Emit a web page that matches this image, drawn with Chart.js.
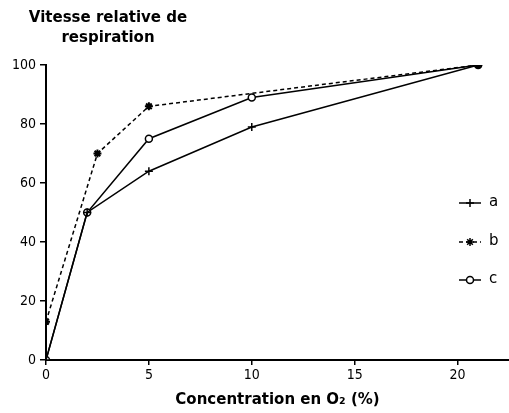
<!DOCTYPE html>
<html>
<head>
<meta charset="utf-8">
<script src="https://cdn.jsdelivr.net/npm/chart.js@4"></script>
<style>
  html, body { margin: 0; padding: 0; background: #fff; overflow: hidden; }
  #wrap { width: 515px; height: 413px; }
</style>
</head>
<body>
<div id="wrap"><canvas id="chart"></canvas></div>
<script>
// values
const xA = [0, 2, 5, 10, 21];
const yA = [0, 50, 64, 79, 100];
const xB = [0, 2.5, 5, 21];
const yB = [13, 70, 86, 100];
const xC = [0, 2, 5, 10, 21];
const yC = [0, 50, 75, 89, 100];
const seriesNames = ["a", "b", "c"];
const yTitle = ["Vitesse relative de", "respiration"];
const xTitle = "Concentration en O\u2082 (%)";

const pts = (xs, ys) => xs.map((x, i) => ({ x, y: ys[i] }));
const tickFont = { family: "DejaVu Sans Condensed, DejaVu Sans, sans-serif", size: 14 };
const boldFont = "bold 15px 'DejaVu Sans', sans-serif";

const textPlugin = {
  id: "texts",
  afterDraw(chart) {
    const ctx = chart.ctx;
    ctx.save();
    ctx.fillStyle = "#000";
    ctx.font = boldFont;
    ctx.textAlign = "center";
    ctx.textBaseline = "middle";
    ctx.fillText(yTitle[0], 108, 18);
    ctx.fillText(yTitle[1], 108, 38);

    // legend
    const ys = [203, 242, 280];
    chart.data.datasets.forEach((ds, i) => {
      const y = ys[i];
      ctx.strokeStyle = "#000";
      ctx.lineWidth = 1.5;
      ctx.setLineDash(ds.borderDash || []);
      ctx.beginPath();
      ctx.moveTo(459, y);
      ctx.lineTo(481, y);
      ctx.stroke();
      ctx.setLineDash([]);
      ctx.fillStyle = ds.backgroundColor;
      Chart.helpers.drawPoint(ctx, {
        pointStyle: ds.pointStyle, radius: ds.pointRadius, borderWidth: ds.pointBorderWidth || 1.5
      }, 470, y);
      ctx.fillStyle = "#000";
      ctx.font = "15px 'DejaVu Sans', sans-serif";
      ctx.textAlign = "left";
      ctx.fillText(seriesNames[i], 489, y - 1);
    });
    ctx.restore();
  }
};

new Chart(document.getElementById("chart"), {
  type: "line",
  data: {
    datasets: [
      {
        label: seriesNames[0], data: pts(xA, yA),
        borderColor: "#000", backgroundColor: "#000", borderWidth: 1.5,
        pointStyle: "cross", pointRadius: 4, pointBorderWidth: 1.5
      },
      {
        label: seriesNames[1], data: pts(xB, yB),
        borderColor: "#000", backgroundColor: "#000", borderWidth: 1.5, borderDash: [4, 3],
        pointStyle: "star", pointRadius: 4, pointBorderWidth: 2
      },
      {
        label: seriesNames[2], data: pts(xC, yC),
        borderColor: "#000", backgroundColor: "#fff", borderWidth: 1.5,
        pointStyle: "circle", pointRadius: 3.5, pointBorderWidth: 1.5
      }
    ]
  },
  options: {
    responsive: true,
    maintainAspectRatio: false,
    animation: false,
    layout: { padding: { top: 65, right: 0, left: 0, bottom: 0 } },
    plugins: { legend: { display: false }, tooltip: { enabled: false } },
    scales: {
      x: {
        type: "linear", min: 0, max: 22.5,
        afterFit(s) { s.height = 53; },
        ticks: { stepSize: 5, includeBounds: false, color: "#000", font: tickFont, padding: 2 },
        grid: { drawOnChartArea: false, color: "#000", tickLength: 5, lineWidth: 1.5 },
        border: { color: "#000", width: 2 },
        title: { display: true, text: xTitle, color: "#000", font: { family: "DejaVu Sans, sans-serif", size: 15, weight: "bold" }, padding: { top: 4 } }
      },
      y: {
        min: 0, max: 100,
        afterFit(s) { s.width = 46; },
        ticks: { stepSize: 20, color: "#000", font: tickFont, padding: 4 },
        grid: { drawOnChartArea: false, color: "#000", tickLength: 6, lineWidth: 1.5 },
        border: { color: "#000", width: 2 }
      }
    }
  },
  plugins: [textPlugin]
});
</script>
</body>
</html>
